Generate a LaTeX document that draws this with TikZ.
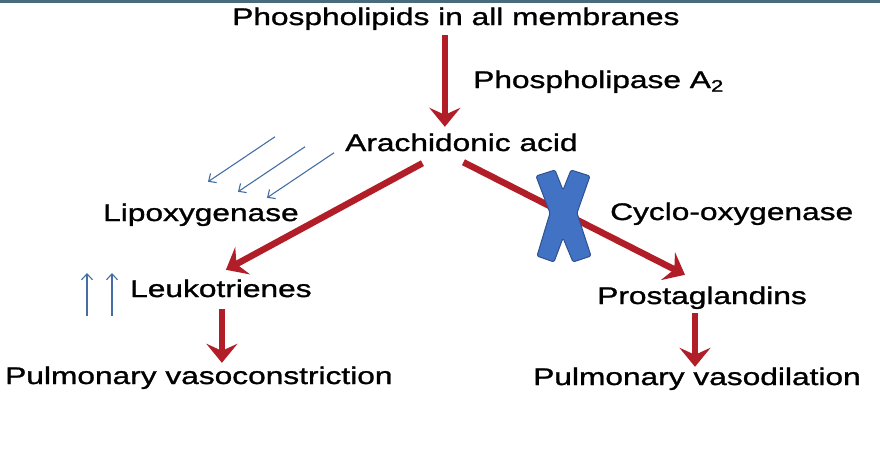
\documentclass[tikz,border=0pt]{standalone}
\usepackage{fontspec}
\setmainfont{Liberation Sans}[FakeStretch=1.32, FakeBold=1.2]
\usetikzlibrary{arrows.meta,calc}
\definecolor{pathred}{RGB}{178,30,40}
\definecolor{xblue}{RGB}{66,114,196}
\definecolor{xedge}{RGB}{47,82,143}
\definecolor{thinblue}{RGB}{70,110,165}
\definecolor{bartop}{RGB}{72,108,124}
\tikzset{
	lbl/.style={inner sep=0pt, anchor=base west, text height=17pt, text depth=5pt, font=\fontsize{24}{28}\selectfont},
	redarrow/.style={pathred, line width=6.5pt, -{Stealth[length=19pt, width=31pt, inset=7pt]}},
	bluearrow/.style={thinblue, line width=1.1pt, -{Straight Barb[length=6pt, width=11pt]}},
	xmark/.style={fill=xblue, draw=xedge, line width=1pt, line join=round, rounded corners=1.5pt}
}
\begin{document}
\begin{tikzpicture}[x=1pt, y=-1pt]
	\useasboundingbox (0,0) rectangle (880,472);
	%top rule
	\fill[bartop] (0,0) rectangle (880,2.5);

	%labels
	\node[lbl] (phospho) at (232,25){Phospholipids in all membranes};
	\node[lbl] (pla) at (473,88){Phospholipase A\textsubscript{2}};
	\node[lbl] (arach) at (345,151){Arachidonic acid};
	\node[lbl] (lipox) at (103,221){Lipoxygenase};
	\node[lbl] (cyclo) at (610,220){Cyclo-oxygenase};
	\node[lbl] (leuko) at (130,297){Leukotrienes};
	\node[lbl] (prosta) at (597,304){Prostaglandins};
	\node[lbl] (vasoc) at (5,384){Pulmonary vasoconstriction};
	\node[lbl] (vasod) at (533,385){Pulmonary vasodilation};

	%pathway
	\draw[redarrow] ($(phospho.south)+(-11,5)$) -- ($(phospho.south |- arach.north)+(-11,-7)$);
	\draw[redarrow] ($(arach.south)+(-39,7)$) -- ($(leuko.north)+(5,-10)$);
	\draw[redarrow] ($(arach.south)+(2,6)$) -- ($(prosta.north)+(-17,-12)$);
	\draw[redarrow] ($(leuko.south)+(1,7)$) -- ($(leuko.south |- vasoc.north)+(1,-4)$);
	\draw[redarrow] ($(prosta.south)+(-7,4)$) -- ($(prosta.south |- vasod.north)+(-7,-1)$);

	%blocked cyclo-oxygenase
	\filldraw[xmark] (536,176) -- (555,170) -- (563,190) -- (571,170) -- (590,176)
		-- (577,213) -- (591,256) -- (573,262) -- (563,238) -- (554,262)
		-- (537,256) -- (550,213) -- cycle;

	%increase marks
	\foreach \dx/\dy in {7/-22, 37/-12, 66/-6}{
		\draw[bluearrow] ($(lipox.north)+(\dx+67,\dy-45)$) -- ($(lipox.north)+(\dx,\dy)$);
	}
	\foreach \dx in {-43, -18}{
		\draw[bluearrow] ($(leuko.west)+(\dx,25)$) -- ($(leuko.west)+(\dx,-18)$);
	}
\end{tikzpicture}
\end{document}
